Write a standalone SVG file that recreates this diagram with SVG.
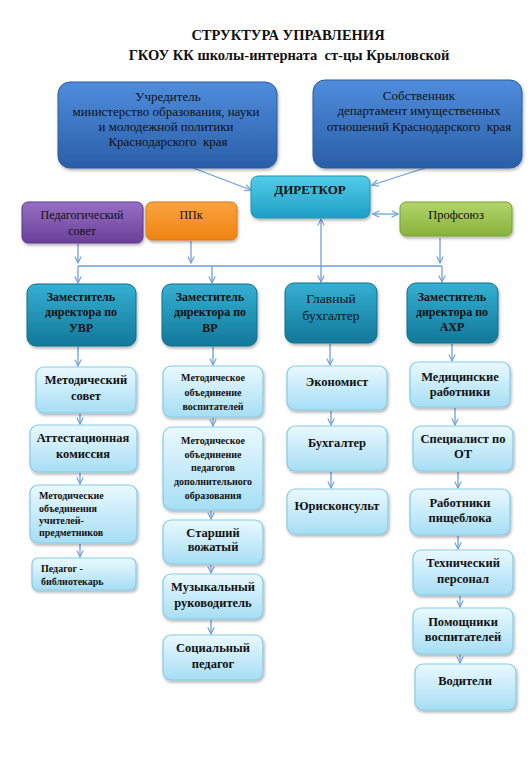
<svg xmlns="http://www.w3.org/2000/svg" width="530" height="768" viewBox="0 0 530 768" font-family="'Liberation Serif', 'DejaVu Serif', 'Times New Roman', serif">
<defs>
<linearGradient id="gDark" x1="0" y1="0" x2="0" y2="1"><stop offset="0" stop-color="#4f8ddc"/><stop offset="1" stop-color="#2a5ea8"/></linearGradient>
<linearGradient id="gDir" x1="0" y1="0" x2="0" y2="1"><stop offset="0" stop-color="#52cde9"/><stop offset="1" stop-color="#1e9fc4"/></linearGradient>
<linearGradient id="gMgr" x1="0" y1="0" x2="0" y2="1"><stop offset="0" stop-color="#35b0d2"/><stop offset="1" stop-color="#12789a"/></linearGradient>
<linearGradient id="gLight" x1="0" y1="0" x2="0" y2="1"><stop offset="0" stop-color="#eaf9ff"/><stop offset="1" stop-color="#a6def4"/></linearGradient>
<linearGradient id="gPurple" x1="0" y1="0" x2="0" y2="1"><stop offset="0" stop-color="#9670c4"/><stop offset="1" stop-color="#6a3f98"/></linearGradient>
<linearGradient id="gOrange" x1="0" y1="0" x2="0" y2="1"><stop offset="0" stop-color="#fba33e"/><stop offset="1" stop-color="#ee8413"/></linearGradient>
<linearGradient id="gGreen" x1="0" y1="0" x2="0" y2="1"><stop offset="0" stop-color="#b3d56c"/><stop offset="1" stop-color="#87b23a"/></linearGradient>
<filter id="sh" x="-10%" y="-10%" width="125%" height="135%"><feDropShadow dx="1" dy="2" stdDeviation="1.5" flood-color="#000" flood-opacity="0.3"/></filter>
<marker id="ar" viewBox="0 0 10 10" refX="9" refY="5" markerWidth="8" markerHeight="8" orient="auto-start-reverse" markerUnits="userSpaceOnUse"><polyline points="1,1 9,5 1,9" fill="none" stroke="#6f9fd8" stroke-width="1.4"/></marker>
<style>
text{font-family:'Liberation Serif','DejaVu Serif','Times New Roman',serif;text-anchor:middle;fill:#111}
.title{font-size:14.5px;font-weight:bold}
.top{font-size:13px}
.mgr{font-size:12px;font-weight:bold}
.lt{font-size:12.5px;font-weight:bold}
.sm{font-size:10px;font-weight:bold}
.dark{fill:url(#gDark);stroke:#2a5a9e;stroke-width:1;filter:url(#sh)}
.m{fill:url(#gMgr);stroke:#0f6e8e;stroke-width:1;filter:url(#sh)}
.l{fill:url(#gLight);stroke:#86cbe8;stroke-width:1.2;filter:url(#sh)}
.c{fill:none;stroke:#6f9fd8;stroke-width:1.3}
.ca{fill:none;stroke:#6f9fd8;stroke-width:1.3;marker-end:url(#ar)}
.left{text-anchor:start}
</style>
</defs>
<rect width="530" height="768" fill="#fff"/>
<g id="title">
<text class="title" x="288" y="40">СТРУКТУРА УПРАВЛЕНИЯ</text>
<text class="title" x="289" y="60" xml:space="preserve">ГКОУ КК школы-интерната  ст-цы Крыловской</text>
</g>
<g id="connectors">
<line class="ca" x1="193" y1="168" x2="251" y2="190"/>
<line class="ca" x1="425" y1="168" x2="372" y2="185"/>
<line class="ca" x1="373" y1="214" x2="398" y2="214" style="marker-start:url(#ar)"/>
<line class="ca" x1="78" y1="244" x2="78" y2="263"/>
<line class="ca" x1="191" y1="241" x2="191" y2="263"/>
<line class="ca" x1="440" y1="238" x2="440" y2="263"/>
<line class="c" x1="78" y1="266" x2="442" y2="266"/>
<line class="ca" x1="78" y1="266" x2="78" y2="283"/>
<line class="ca" x1="212" y1="266" x2="212" y2="283"/>
<line class="ca" x1="442" y1="266" x2="442" y2="282"/>
<line class="ca" x1="321" y1="282" x2="321" y2="219" style="marker-start:url(#ar)"/>
<line class="ca" x1="78" y1="347" x2="78" y2="366"/>
<line class="ca" x1="213" y1="347" x2="213" y2="365"/>
<line class="ca" x1="330" y1="344" x2="330" y2="365"/>
<line class="ca" x1="452" y1="344" x2="452" y2="361"/>
<line class="ca" x1="80" y1="413" x2="80" y2="424"/>
<line class="ca" x1="80" y1="473" x2="80" y2="484"/>
<line class="ca" x1="80" y1="544" x2="80" y2="557"/>
<line class="ca" x1="213" y1="418" x2="213" y2="426"/>
<line class="ca" x1="211" y1="511" x2="211" y2="519"/>
<line class="ca" x1="211" y1="565" x2="211" y2="573"/>
<line class="ca" x1="211" y1="620" x2="211" y2="634"/>
<line class="ca" x1="331" y1="411" x2="331" y2="425"/>
<line class="ca" x1="331" y1="472" x2="331" y2="488"/>
<line class="ca" x1="455" y1="408" x2="455" y2="425"/>
<line class="ca" x1="458" y1="472" x2="458" y2="488"/>
<line class="ca" x1="458" y1="536" x2="458" y2="549"/>
<line class="ca" x1="460" y1="596" x2="460" y2="607"/>
<line class="ca" x1="460" y1="655" x2="460" y2="663"/>
</g>
<g id="uchreditel">
<rect class="dark" x="58" y="82" width="219" height="86" rx="12"/>
<text class="top" x="168" y="101">Учредитель</text>
<text class="top" x="166" y="116">министерство образования, науки</text>
<text class="top" x="166" y="131">и молодежной политики</text>
<text class="top" x="168" y="146" xml:space="preserve">Краснодарского  края</text>
</g>
<g id="sobstvennik">
<rect class="dark" x="313" y="80" width="209" height="88" rx="12"/>
<text class="top" x="419" y="100">Собственник</text>
<text class="top" x="419" y="115">департамент имущественных</text>
<text class="top" x="419" y="131" xml:space="preserve">отношений Краснодарского  края</text>
</g>
<g id="director">
<rect x="251" y="176" width="119" height="42" rx="7" fill="url(#gDir)" stroke="#1c95b8" filter="url(#sh)"/>
<text x="310" y="194" style="font-size:13px;font-weight:bold">ДИРЕТКОР</text>
</g>
<g id="pedsovet">
<rect x="22" y="202" width="121" height="41" rx="6" fill="url(#gPurple)" stroke="#5e3690" filter="url(#sh)"/>
<text x="82" y="219" style="font-size:12px">Педагогический</text>
<text x="82" y="235" style="font-size:12px">совет</text>
</g>
<g id="ppk">
<rect x="146" y="202" width="91" height="38" rx="6" fill="url(#gOrange)" stroke="#d97810" filter="url(#sh)"/>
<text x="191" y="219" style="font-size:12px">ППк</text>
</g>
<g id="profsoyuz">
<rect x="400" y="202" width="112" height="34" rx="6" fill="url(#gGreen)" stroke="#78a030" filter="url(#sh)"/>
<text x="456" y="219" style="font-size:12.5px">Профсоюз</text>
</g>
<g id="zam-uvr">
<rect class="m" x="27" y="284" width="109" height="62" rx="9"/>
<text class="mgr" x="81" y="301">Заместитель</text>
<text class="mgr" x="81" y="316">директора по</text>
<text class="mgr" x="81" y="332">УВР</text>
</g>
<g id="zam-vr">
<rect class="m" x="162" y="284" width="95" height="62" rx="9"/>
<text class="mgr" x="210" y="301">Заместитель</text>
<text class="mgr" x="210" y="316">директора по</text>
<text class="mgr" x="210" y="332">ВР</text>
</g>
<g id="glavbuh">
<rect class="m" x="285" y="283" width="92" height="60" rx="9"/>
<text x="331" y="303" style="font-size:13.5px">Главный</text>
<text x="331" y="320" style="font-size:13.5px">бухгалтер</text>
</g>
<g id="zam-ahr">
<rect class="m" x="407" y="283" width="91" height="60" rx="9"/>
<text class="mgr" x="452" y="301">Заместитель</text>
<text class="mgr" x="452" y="316">директора по</text>
<text class="mgr" x="452" y="331">АХР</text>
</g>
<g id="metsovet">
<rect class="l" x="36" y="367" width="100" height="46" rx="8"/>
<text class="lt" x="86" y="384">Методический</text>
<text class="lt" x="86" y="400">совет</text>
</g>
<g id="attest">
<rect class="l" x="30" y="425" width="107" height="47" rx="8"/>
<text class="lt" x="83" y="442">Аттестационная</text>
<text class="lt" x="83" y="458">комиссия</text>
</g>
<g id="mo-uchitelei">
<rect class="l" x="30" y="485" width="107" height="58" rx="8"/>
<text class="sm left" x="39" y="499">Методические</text>
<text class="sm left" x="39" y="512">объединения</text>
<text class="sm left" x="39" y="524">учителей-</text>
<text class="sm left" x="39" y="536">предметников</text>
</g>
<g id="bibliotekar">
<rect class="l" x="32" y="558" width="104" height="32" rx="6"/>
<text class="sm left" x="41" y="572">Педагог -</text>
<text class="sm left" x="41" y="585">библиотекарь</text>
</g>
<g id="mo-vospitatelei">
<rect class="l" x="163" y="366" width="100" height="51" rx="8"/>
<text class="sm" x="213" y="381">Методическое</text>
<text class="sm" x="213" y="396">объединение</text>
<text class="sm" x="213" y="410">воспитателей</text>
</g>
<g id="mo-dop">
<rect class="l" x="163" y="427" width="100" height="83" rx="9"/>
<text class="sm" x="213" y="444">Методическое</text>
<text class="sm" x="213" y="458">объединение</text>
<text class="sm" x="213" y="471">педагогов</text>
<text class="sm" x="213" y="485">дополнительного</text>
<text class="sm" x="213" y="499">образования</text>
</g>
<g id="vozhatyi">
<rect class="l" x="163" y="520" width="100" height="44" rx="8"/>
<text class="lt" x="213" y="537">Старший</text>
<text class="lt" x="213" y="551">вожатый</text>
</g>
<g id="muz">
<rect class="l" x="163" y="574" width="100" height="45" rx="8"/>
<text class="lt" x="213" y="591">Музыкальный</text>
<text class="lt" x="213" y="607">руководитель</text>
</g>
<g id="socped">
<rect class="l" x="163" y="635" width="100" height="45" rx="8"/>
<text class="lt" x="213" y="652">Социальный</text>
<text class="lt" x="213" y="668">педагог</text>
</g>
<g id="ekonomist">
<rect class="l" x="287" y="366" width="100" height="44" rx="8"/>
<text class="lt" x="337" y="386">Экономист</text>
</g>
<g id="buhgalter">
<rect class="l" x="287" y="426" width="100" height="45" rx="8"/>
<text class="lt" x="337" y="447">Бухгалтер</text>
</g>
<g id="yurist">
<rect class="l" x="287" y="489" width="101" height="45" rx="8"/>
<text class="lt" x="337" y="510">Юрисконсульт</text>
</g>
<g id="medrab">
<rect class="l" x="410" y="362" width="100" height="45" rx="8"/>
<text class="lt" x="460" y="381">Медицинские</text>
<text class="lt" x="460" y="396">работники</text>
</g>
<g id="ot">
<rect class="l" x="413" y="426" width="100" height="45" rx="8"/>
<text class="lt" x="463" y="443">Специалист по</text>
<text class="lt" x="463" y="458">ОТ</text>
</g>
<g id="pishcheblok">
<rect class="l" x="410" y="489" width="100" height="46" rx="8"/>
<text class="lt" x="460" y="507">Работники</text>
<text class="lt" x="460" y="522">пищеблока</text>
</g>
<g id="tehpersonal">
<rect class="l" x="413" y="550" width="100" height="45" rx="8"/>
<text class="lt" x="463" y="567">Технический</text>
<text class="lt" x="463" y="583">персонал</text>
</g>
<g id="pomoshchniki">
<rect class="l" x="413" y="608" width="100" height="46" rx="8"/>
<text class="lt" x="463" y="626">Помощники</text>
<text class="lt" x="463" y="641">воспитателей</text>
</g>
<g id="voditeli">
<rect class="l" x="415" y="664" width="101" height="46" rx="8"/>
<text class="lt" x="465" y="685">Водители</text>
</g>
</svg>
